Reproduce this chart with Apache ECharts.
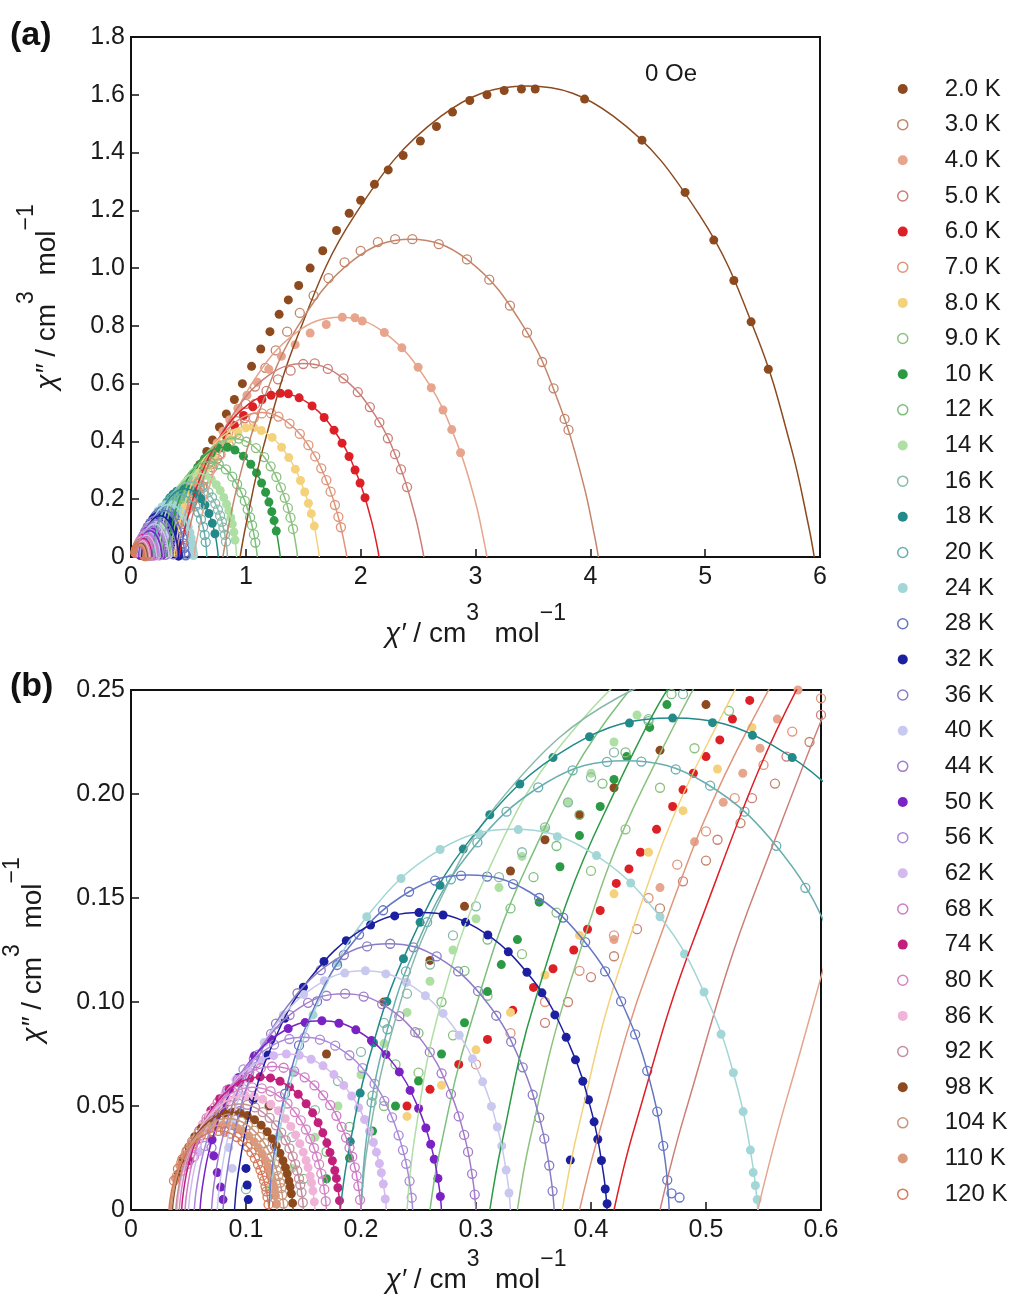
<!DOCTYPE html>
<html><head><meta charset="utf-8">
<script src="https://cdn.jsdelivr.net/npm/echarts@6.0.0/dist/echarts.min.js"></script>
<style>html,body{margin:0;padding:0;background:#fff}#c{width:1013px;height:1306px}</style>
</head><body><div id="c"></div>
<script>
const temps = ['2.0 K','3.0 K','4.0 K','5.0 K','6.0 K','7.0 K','8.0 K','9.0 K','10 K','12 K','14 K','16 K','18 K','20 K','24 K','28 K','32 K','36 K','40 K','44 K','50 K','56 K','62 K','68 K','74 K','80 K','86 K','92 K','98 K','104 K','110 K','120 K'];
const xTicksA = [0,1,2,3,4,5,6];
const yTicksA = [0,0.2,0.4,0.6,0.8,1.0,1.2,1.4,1.6,1.8];
const xTicksB = [0,0.1,0.2,0.3,0.4,0.5,0.6];
const yTicksB = [0,0.05,0.10,0.15,0.20,0.25];

const pts_2K = [[0.12,0.05],[0.17,0.075],[0.22,0.1],[0.26,0.12],[0.29,0.146],[0.33,0.163],[0.36,0.178],[0.39,0.19],[0.42,0.203],[0.46,0.221],[0.5,0.243],[0.55,0.28],[0.6,0.32],[0.66,0.365],[0.71,0.405],[0.77,0.45],[0.83,0.495],[0.9,0.545],[0.97,0.6],[1.05,0.66],[1.13,0.72],[1.21,0.78],[1.29,0.84],[1.37,0.89],[1.46,0.94],[1.56,1.0],[1.67,1.06],[1.79,1.13],[1.9,1.19],[2.0,1.235],[2.12,1.29],[2.24,1.34],[2.37,1.39],[2.52,1.44],[2.66,1.49],[2.8,1.54],[2.95,1.58],[3.1,1.6],[3.25,1.615],[3.4,1.62],[3.52,1.62],[3.95,1.585],[4.45,1.443],[4.825,1.262],[5.075,1.097],[5.25,0.957],[5.4,0.814],[5.55,0.65]];
const pts_3K = [[0.38,0.1],[0.42,0.122],[0.46,0.145],[0.5,0.168],[0.53,0.186],[0.56,0.205],[0.59,0.225],[0.62,0.245],[0.66,0.272],[0.71,0.31],[0.77,0.355],[0.84,0.41],[0.92,0.47],[1.0,0.53],[1.08,0.59],[1.17,0.655],[1.26,0.715],[1.36,0.78],[1.47,0.845],[1.59,0.905],[1.72,0.965],[1.86,1.02],[2.0,1.06],[2.15,1.09],[2.3,1.1],[2.45,1.1],[2.68,1.083],[2.926,1.03],[3.12,0.96],[3.3,0.87],[3.449,0.777],[3.58,0.675],[3.68,0.584],[3.776,0.478],[3.81,0.44]];
const pts_4K = [[0.42,0.13],[0.46,0.155],[0.49,0.177],[0.515,0.196],[0.532,0.21],[0.547,0.222],[0.562,0.236],[0.58,0.25],[0.61,0.275],[0.65,0.31],[0.7,0.35],[0.75,0.395],[0.8,0.435],[0.86,0.475],[0.93,0.515],[1.01,0.56],[1.1,0.605],[1.2,0.65],[1.31,0.695],[1.43,0.735],[1.56,0.775],[1.7,0.805],[1.84,0.83],[1.95,0.828],[2.014,0.817],[2.206,0.777],[2.359,0.724],[2.5,0.657],[2.615,0.586],[2.717,0.509],[2.793,0.441],[2.87,0.361]];
const pts_5K = [[0.36,0.09],[0.4,0.112],[0.44,0.135],[0.48,0.158],[0.51,0.178],[0.54,0.198],[0.57,0.218],[0.6,0.238],[0.64,0.265],[0.69,0.3],[0.75,0.34],[0.82,0.385],[0.9,0.43],[0.99,0.48],[1.08,0.53],[1.18,0.575],[1.28,0.615],[1.39,0.645],[1.5,0.668],[1.6,0.67],[1.714,0.651],[1.85,0.618],[1.975,0.571],[2.08,0.519],[2.163,0.466],[2.237,0.411],[2.3,0.356],[2.351,0.303],[2.404,0.242]];
const pts_6K = [[0.24,0.05],[0.26,0.058],[0.285,0.07],[0.31,0.082],[0.332,0.096],[0.35,0.107],[0.367,0.116],[0.385,0.125],[0.397,0.135],[0.408,0.144],[0.422,0.157],[0.433,0.164],[0.443,0.172],[0.457,0.183],[0.471,0.194],[0.48,0.202],[0.489,0.21],[0.5,0.218],[0.512,0.226],[0.523,0.236],[0.538,0.245],[0.555,0.256],[0.58,0.272],[0.61,0.29],[0.65,0.315],[0.7,0.345],[0.76,0.38],[0.83,0.42],[0.9,0.455],[0.98,0.49],[1.06,0.52],[1.14,0.545],[1.22,0.56],[1.3,0.567],[1.37,0.565],[1.464,0.551],[1.577,0.523],[1.682,0.483],[1.768,0.439],[1.838,0.394],[1.899,0.348],[1.951,0.301],[1.995,0.256],[2.038,0.205]];
const pts_7K = [[0.3,0.07],[0.33,0.085],[0.36,0.1],[0.39,0.115],[0.42,0.132],[0.45,0.15],[0.475,0.166],[0.5,0.182],[0.525,0.198],[0.55,0.214],[0.575,0.23],[0.6,0.246],[0.63,0.266],[0.67,0.292],[0.72,0.322],[0.78,0.355],[0.85,0.39],[0.92,0.425],[1.0,0.458],[1.07,0.482],[1.14,0.497],[1.22,0.497],[1.284,0.486],[1.381,0.462],[1.47,0.426],[1.545,0.387],[1.604,0.348],[1.657,0.307],[1.701,0.266],[1.738,0.226],[1.776,0.18],[1.806,0.139],[1.828,0.103]];
const pts_8K = [[0.24,0.045],[0.27,0.06],[0.3,0.077],[0.33,0.095],[0.36,0.113],[0.39,0.132],[0.42,0.152],[0.45,0.172],[0.48,0.192],[0.51,0.212],[0.54,0.232],[0.57,0.252],[0.61,0.278],[0.66,0.31],[0.72,0.345],[0.79,0.38],[0.86,0.41],[0.93,0.432],[1.0,0.447],[1.07,0.448],[1.134,0.438],[1.229,0.414],[1.311,0.38],[1.374,0.344],[1.431,0.304],[1.476,0.265],[1.513,0.225],[1.545,0.186],[1.57,0.15],[1.596,0.107]];
const pts_9K = [[0.22,0.05],[0.25,0.066],[0.28,0.084],[0.31,0.103],[0.34,0.123],[0.37,0.143],[0.4,0.163],[0.43,0.183],[0.46,0.203],[0.49,0.222],[0.52,0.24],[0.56,0.262],[0.61,0.29],[0.67,0.322],[0.73,0.352],[0.8,0.38],[0.87,0.4],[0.94,0.41],[1.004,0.399],[1.088,0.377],[1.16,0.346],[1.216,0.314],[1.266,0.277],[1.305,0.241],[1.339,0.205],[1.366,0.17],[1.389,0.136],[1.411,0.097]];
const pts_10K = [[0.17,0.015],[0.19,0.025],[0.21,0.038],[0.23,0.05],[0.25,0.062],[0.27,0.075],[0.29,0.09],[0.31,0.105],[0.322,0.118],[0.336,0.13],[0.355,0.148],[0.373,0.165],[0.39,0.18],[0.408,0.194],[0.42,0.207],[0.431,0.218],[0.451,0.232],[0.466,0.243],[0.49,0.258],[0.53,0.28],[0.58,0.31],[0.64,0.34],[0.7,0.36],[0.77,0.376],[0.84,0.38],[0.905,0.37],[0.979,0.349],[1.043,0.321],[1.093,0.291],[1.137,0.256],[1.172,0.224],[1.201,0.19],[1.226,0.157],[1.246,0.126],[1.265,0.09]];
const pts_12K = [[0.15,0.015],[0.17,0.028],[0.19,0.04],[0.21,0.055],[0.23,0.07],[0.25,0.085],[0.27,0.1],[0.29,0.115],[0.31,0.13],[0.33,0.145],[0.35,0.16],[0.37,0.175],[0.39,0.19],[0.41,0.205],[0.43,0.22],[0.45,0.235],[0.47,0.248],[0.5,0.265],[0.54,0.285],[0.59,0.305],[0.64,0.32],[0.69,0.33],[0.764,0.321],[0.827,0.303],[0.882,0.278],[0.924,0.252],[0.961,0.223],[0.991,0.194],[1.016,0.165],[1.037,0.137],[1.054,0.11],[1.071,0.078],[1.083,0.05]];
const pts_14K = [[0.12,0.01],[0.14,0.02],[0.16,0.035],[0.18,0.05],[0.2,0.065],[0.22,0.08],[0.24,0.095],[0.26,0.11],[0.28,0.125],[0.3,0.14],[0.32,0.155],[0.34,0.17],[0.36,0.183],[0.38,0.196],[0.4,0.21],[0.42,0.225],[0.44,0.238],[0.47,0.255],[0.5,0.27],[0.54,0.282],[0.58,0.29],[0.648,0.283],[0.699,0.269],[0.743,0.25],[0.777,0.23],[0.808,0.206],[0.832,0.183],[0.852,0.16],[0.869,0.136],[0.883,0.114],[0.896,0.086],[0.906,0.059]];
const pts_16K = [[0.1,0.01],[0.12,0.022],[0.14,0.035],[0.16,0.048],[0.18,0.062],[0.2,0.076],[0.22,0.09],[0.24,0.104],[0.26,0.118],[0.28,0.132],[0.3,0.146],[0.32,0.16],[0.34,0.172],[0.36,0.184],[0.38,0.196],[0.4,0.208],[0.42,0.22],[0.45,0.236],[0.48,0.248],[0.52,0.258],[0.56,0.259],[0.584,0.254],[0.632,0.2415],[0.674,0.224],[0.706,0.206],[0.734,0.185],[0.757,0.164],[0.776,0.143],[0.792,0.122],[0.805,0.102],[0.818,0.077],[0.827,0.053]];
const pts_18K = [[0.1907,0.0329],[0.1993,0.0562],[0.2109,0.0804],[0.2225,0.1002],[0.2369,0.1208],[0.2514,0.1383],[0.2687,0.1561],[0.2889,0.1735],[0.312,0.19],[0.3381,0.2048],[0.367,0.2175],[0.3987,0.2275],[0.4334,0.2341],[0.471,0.2365],[0.5057,0.2343],[0.5404,0.2282],[0.575,0.2175],[0.6097,0.2018],[0.6444,0.18],[0.6791,0.1505],[0.708,0.117],[0.7311,0.0804]];
const pts_20K = [[0.2092,0.0517],[0.223,0.0869],[0.2391,0.1147],[0.2575,0.1384],[0.2782,0.159],[0.3012,0.1767],[0.3265,0.1915],[0.3541,0.2032],[0.384,0.2114],[0.4139,0.2154],[0.4438,0.2156],[0.4737,0.2118],[0.5036,0.204],[0.5335,0.1915],[0.5611,0.1751],[0.5864,0.1549],[0.6094,0.1303],[0.6278,0.1039],[0.6416,0.0769],[0.6508,0.0517]];
const pts_24K = [[0.1285,0.0356],[0.1413,0.066],[0.1583,0.0938],[0.1795,0.119],[0.205,0.141],[0.2348,0.1594],[0.2688,0.1733],[0.3028,0.1809],[0.3368,0.1829],[0.3708,0.1795],[0.4048,0.1704],[0.4345,0.1572],[0.46,0.141],[0.4813,0.1231],[0.4983,0.1048],[0.5131,0.0845],[0.5238,0.066],[0.5323,0.0473],[0.5386,0.0288],[0.541,0.018],[0.5429,0.0118],[0.5445,0.005]];
const pts_28K = [[0.1252,0.0308],[0.134,0.0559],[0.1461,0.0791],[0.1618,0.1003],[0.1792,0.1178],[0.1983,0.1324],[0.2192,0.1441],[0.2418,0.153],[0.2644,0.1584],[0.287,0.1608],[0.3097,0.1603],[0.3323,0.1567],[0.3549,0.15],[0.3758,0.1406],[0.3949,0.1288],[0.4123,0.1147],[0.4262,0.1003],[0.4384,0.0844],[0.4489,0.0669],[0.4576,0.0473],[0.4628,0.0308],[0.4663,0.0144],[0.47,0.008],[0.477,0.006]];
const pts_32K = [[0.1062,0.053],[0.1192,0.0745],[0.1337,0.0922],[0.1499,0.1071],[0.1678,0.1195],[0.1872,0.1295],[0.2083,0.137],[0.2293,0.1414],[0.2504,0.143],[0.2714,0.1418],[0.2909,0.1383],[0.3103,0.1322],[0.3281,0.1241],[0.3443,0.1143],[0.3573,0.1044],[0.3686,0.0938],[0.3784,0.083],[0.3865,0.0722],[0.3929,0.0619],[0.3978,0.053],[0.4027,0.0424],[0.4059,0.034],[0.4091,0.0238],[0.4124,0.0101],[0.414,0.003],[0.382,0.024],[0.1,0.02],[0.101,0.012],[0.102,0.005]];
const pts_36K = [[0.0944,0.0475],[0.1088,0.0706],[0.1261,0.0896],[0.1448,0.1042],[0.165,0.1153],[0.1851,0.1226],[0.2053,0.1267],[0.2254,0.128],[0.2456,0.1263],[0.2658,0.1219],[0.2845,0.1147],[0.3018,0.1052],[0.3176,0.0934],[0.3306,0.0809],[0.3406,0.0686],[0.3493,0.0554],[0.355,0.0444],[0.3594,0.0343],[0.3637,0.0214],[0.3666,0.0091]];
const pts_40K = [[0.0878,0.0427],[0.1005,0.0634],[0.1158,0.0805],[0.1324,0.0937],[0.1502,0.1036],[0.1681,0.1102],[0.1859,0.1139],[0.2038,0.115],[0.2216,0.1135],[0.2395,0.1095],[0.256,0.103],[0.2714,0.0945],[0.2854,0.084],[0.2969,0.0727],[0.3058,0.0616],[0.3134,0.0498],[0.3185,0.0399],[0.3224,0.0308],[0.3262,0.0192],[0.3287,0.0082],[0.085,0.03],[0.088,0.02]];
const pts_44K = [[0.0815,0.0386],[0.093,0.0574],[0.1068,0.0728],[0.1218,0.0847],[0.1379,0.0937],[0.154,0.0996],[0.17,0.103],[0.1862,0.104],[0.2023,0.1026],[0.2184,0.099],[0.2333,0.0932],[0.2471,0.0855],[0.2598,0.0759],[0.2701,0.0657],[0.2782,0.0557],[0.285,0.045],[0.2897,0.0361],[0.2931,0.0279],[0.2966,0.0174],[0.2989,0.0074],[0.066,0.04],[0.07,0.03]];
const pts_50K = [[0.0705,0.0338],[0.081,0.0502],[0.0936,0.0637],[0.1073,0.0741],[0.122,0.082],[0.1367,0.0872],[0.1514,0.0901],[0.166,0.091],[0.1808,0.0898],[0.1955,0.0866],[0.2091,0.0815],[0.2217,0.0748],[0.2333,0.0664],[0.2427,0.0575],[0.2501,0.0488],[0.2564,0.0394],[0.2606,0.0316],[0.2637,0.0244],[0.2669,0.0152],[0.269,0.0065],[0.072,0.026],[0.075,0.018],[0.078,0.011],[0.08,0.005]];
const pts_56K = [[0.0645,0.0308],[0.074,0.0458],[0.0854,0.0581],[0.0978,0.0676],[0.111,0.0748],[0.1244,0.0795],[0.1377,0.0822],[0.151,0.083],[0.1643,0.0819],[0.1776,0.079],[0.1899,0.0744],[0.2013,0.0682],[0.2118,0.0606],[0.2203,0.0525],[0.227,0.0445],[0.2327,0.0359],[0.2365,0.0288],[0.2393,0.0222],[0.2422,0.0139],[0.2441,0.0059]];
const pts_62K = [[0.0586,0.0278],[0.0655,0.0391],[0.0732,0.0483],[0.0818,0.0562],[0.0913,0.0627],[0.1016,0.068],[0.1128,0.0719],[0.124,0.0742],[0.1351,0.075],[0.1463,0.0744],[0.1566,0.0725],[0.167,0.0693],[0.1764,0.0651],[0.185,0.0599],[0.1919,0.0548],[0.1979,0.0492],[0.2031,0.0435],[0.2074,0.0379],[0.2108,0.0325],[0.2134,0.0278],[0.216,0.0223],[0.2177,0.0179],[0.2194,0.0125],[0.2211,0.0053]];
const pts_68K = [[0.0547,0.0256],[0.0608,0.0359],[0.0677,0.0444],[0.0753,0.0517],[0.0837,0.0577],[0.0929,0.0625],[0.1028,0.0661],[0.1128,0.0682],[0.1227,0.069],[0.1327,0.0684],[0.1419,0.0667],[0.151,0.0638],[0.1595,0.0599],[0.1671,0.0551],[0.1732,0.0504],[0.1786,0.0453],[0.1832,0.04],[0.187,0.0348],[0.19,0.0299],[0.1924,0.0256],[0.1946,0.0205],[0.1962,0.0164],[0.1977,0.0115],[0.1992,0.0049]];
const pts_74K = [[0.0509,0.0237],[0.0564,0.0333],[0.0626,0.0412],[0.0695,0.0479],[0.0771,0.0535],[0.0854,0.058],[0.0944,0.0613],[0.1033,0.0633],[0.1123,0.064],[0.1213,0.0635],[0.1296,0.0619],[0.1378,0.0591],[0.1454,0.0556],[0.1523,0.0511],[0.1579,0.0467],[0.1627,0.042],[0.1668,0.0371],[0.1703,0.0323],[0.173,0.0277],[0.1751,0.0237],[0.1772,0.019],[0.1786,0.0152],[0.1799,0.0107],[0.1813,0.0045]];
const pts_80K = [[0.0484,0.0219],[0.0535,0.0307],[0.0593,0.038],[0.0657,0.0442],[0.0727,0.0493],[0.0804,0.0535],[0.0887,0.0565],[0.097,0.0584],[0.1054,0.059],[0.1137,0.0585],[0.1214,0.0571],[0.129,0.0545],[0.1361,0.0512],[0.1425,0.0471],[0.1476,0.0431],[0.1521,0.0387],[0.1559,0.0342],[0.1591,0.0298],[0.1617,0.0255],[0.1636,0.0219],[0.1655,0.0175],[0.1668,0.014],[0.1681,0.0099],[0.1694,0.0042]];
const pts_86K = [[0.046,0.0204],[0.0508,0.0287],[0.0562,0.0354],[0.0622,0.0412],[0.0688,0.046],[0.076,0.0498],[0.0838,0.0527],[0.0916,0.0544],[0.0994,0.055],[0.1072,0.0546],[0.1144,0.0532],[0.1216,0.0508],[0.1282,0.0477],[0.1342,0.0439],[0.139,0.0402],[0.1432,0.0361],[0.1468,0.0319],[0.1498,0.0278],[0.1522,0.0238],[0.154,0.0204],[0.1558,0.0163],[0.157,0.0131],[0.1582,0.0092],[0.1594,0.0039]];
const pts_92K = [[0.0446,0.0189],[0.049,0.0266],[0.054,0.0328],[0.0595,0.0382],[0.0656,0.0426],[0.0723,0.0462],[0.0795,0.0489],[0.0867,0.0504],[0.0939,0.051],[0.1012,0.0506],[0.1078,0.0493],[0.1145,0.0471],[0.1206,0.0443],[0.1261,0.0407],[0.1306,0.0372],[0.1345,0.0335],[0.1378,0.0296],[0.1406,0.0258],[0.1428,0.0221],[0.1445,0.0189],[0.1461,0.0151],[0.1472,0.0121],[0.1483,0.0085],[0.1494,0.0036]];
const pts_98K = [[0.0413,0.0174],[0.0455,0.0245],[0.0502,0.0303],[0.0554,0.0352],[0.0612,0.0393],[0.0675,0.0426],[0.0743,0.045],[0.0812,0.0465],[0.088,0.047],[0.0948,0.0466],[0.1011,0.0454],[0.1074,0.0434],[0.1132,0.0408],[0.1184,0.0376],[0.1226,0.0343],[0.1263,0.0308],[0.1295,0.0273],[0.1321,0.0237],[0.1342,0.0204],[0.1358,0.0174],[0.1373,0.014],[0.1384,0.0112],[0.1394,0.0078],[0.1405,0.0033]];
const pts_104K = [[0.0399,0.0163],[0.0438,0.0229],[0.0482,0.0283],[0.0531,0.033],[0.0585,0.0368],[0.0644,0.0399],[0.0708,0.0422],[0.0771,0.0435],[0.0835,0.044],[0.0899,0.0436],[0.0958,0.0425],[0.1016,0.0407],[0.107,0.0382],[0.1119,0.0352],[0.1159,0.0321],[0.1193,0.0289],[0.1222,0.0255],[0.1247,0.0222],[0.1266,0.0191],[0.1281,0.0163],[0.1296,0.0131],[0.1306,0.0105],[0.1315,0.0073],[0.1325,0.0031]];
const pts_110K = [[0.0387,0.0152],[0.0424,0.0214],[0.0466,0.0264],[0.0512,0.0307],[0.0563,0.0343],[0.0619,0.0371],[0.068,0.0393],[0.074,0.0405],[0.08,0.041],[0.0861,0.0407],[0.0917,0.0396],[0.0972,0.0379],[0.1024,0.0356],[0.107,0.0328],[0.1107,0.0299],[0.114,0.0269],[0.1168,0.0238],[0.1191,0.0207],[0.121,0.0178],[0.1224,0.0152],[0.1237,0.0122],[0.1247,0.0098],[0.1256,0.0068],[0.1265,0.0029]];
const pts_120K = [[0.0374,0.0141],[0.0408,0.0198],[0.0447,0.0245],[0.0491,0.0285],[0.0539,0.0318],[0.0591,0.0344],[0.0648,0.0364],[0.0704,0.0376],[0.0761,0.038],[0.0817,0.0377],[0.0869,0.0367],[0.0922,0.0351],[0.097,0.033],[0.1013,0.0304],[0.1048,0.0277],[0.1078,0.0249],[0.1104,0.022],[0.1126,0.0192],[0.1143,0.0165],[0.1157,0.0141],[0.117,0.0113],[0.1178,0.009],[0.1187,0.0063],[0.1196,0.0027]];

const fit_2K = [[0.95,0],[1.0,0.109],[1.15,0.377],[1.45,0.764],[1.95,1.184],[2.7,1.526],[3.45,1.63],[4.2,1.526],[4.95,1.184],[5.45,0.764],[5.75,0.377],[5.9,0.109],[5.95,0]];
const fit_3K = [[0.8,0],[0.833,0.073],[0.931,0.254],[1.127,0.515],[1.454,0.799],[1.944,1.03],[2.435,1.1],[2.926,1.03],[3.416,0.799],[3.743,0.515],[3.939,0.254],[4.037,0.073],[4.07,0]];
const fit_4K = [[0.545,0],[0.571,0.055],[0.647,0.192],[0.801,0.389],[1.056,0.603],[1.439,0.777],[1.823,0.83],[2.206,0.777],[2.589,0.603],[2.844,0.389],[2.998,0.192],[3.074,0.055],[3.1,0]];
const fit_5K = [[0.46,0],[0.481,0.045],[0.544,0.155],[0.669,0.314],[0.878,0.487],[1.192,0.627],[1.505,0.67],[1.819,0.627],[2.132,0.487],[2.341,0.314],[2.466,0.155],[2.529,0.045],[2.55,0]];
const fit_6K = [[0.42,0],[0.437,0.038],[0.49,0.131],[0.594,0.266],[0.768,0.412],[1.029,0.531],[1.29,0.567],[1.551,0.531],[1.812,0.412],[1.986,0.266],[2.09,0.131],[2.143,0.038],[2.16,0]];
const fit_7K = [[0.39,0],[0.405,0.033],[0.45,0.116],[0.539,0.234],[0.688,0.363],[0.912,0.468],[1.135,0.5],[1.359,0.468],[1.582,0.363],[1.731,0.234],[1.82,0.116],[1.865,0.033],[1.88,0]];
const fit_8K = [[0.375,0],[0.388,0.037],[0.426,0.118],[0.502,0.225],[0.628,0.336],[0.818,0.424],[1.008,0.45],[1.197,0.424],[1.387,0.336],[1.513,0.225],[1.589,0.118],[1.627,0.037],[1.64,0]];
const fit_9K = [[0.336,0],[0.347,0.034],[0.381,0.108],[0.447,0.205],[0.559,0.306],[0.726,0.386],[0.893,0.41],[1.06,0.386],[1.227,0.306],[1.339,0.205],[1.405,0.108],[1.439,0.034],[1.45,0]];
const fit_10K = [[0.312,0],[0.322,0.031],[0.351,0.1],[0.411,0.19],[0.51,0.284],[0.658,0.358],[0.806,0.38],[0.954,0.358],[1.102,0.284],[1.201,0.19],[1.26,0.1],[1.29,0.031],[1.3,0]];
const fit_12K = [[0.26,0],[0.268,0.027],[0.294,0.087],[0.344,0.165],[0.428,0.246],[0.554,0.311],[0.68,0.33],[0.806,0.311],[0.932,0.246],[1.016,0.165],[1.066,0.087],[1.092,0.027],[1.1,0]];
const fit_14K = [[0.24,0],[0.247,0.036],[0.267,0.094],[0.308,0.16],[0.376,0.225],[0.478,0.275],[0.58,0.29],[0.682,0.275],[0.784,0.225],[0.852,0.16],[0.893,0.094],[0.913,0.036],[0.92,0]];
const fit_16K = [[0.2,0],[0.206,0.032],[0.226,0.084],[0.264,0.1435],[0.328,0.2015],[0.424,0.2465],[0.52,0.26],[0.616,0.2465],[0.712,0.2015],[0.776,0.1435],[0.814,0.084],[0.834,0.032],[0.84,0]];
const fit_18K = [[0.182,0],[0.1878,0.0235],[0.2051,0.069],[0.2398,0.1246],[0.2976,0.18],[0.3843,0.2235],[0.471,0.2365],[0.5577,0.2235],[0.6444,0.18],[0.7022,0.1246],[0.7369,0.069],[0.7542,0.0235],[0.76,0]];
const fit_20K = [[0.2,0],[0.2046,0.0336],[0.2184,0.0769],[0.246,0.1244],[0.292,0.1702],[0.361,0.2054],[0.43,0.216],[0.499,0.2054],[0.568,0.1702],[0.614,0.1244],[0.6416,0.0769],[0.6554,0.0336],[0.66,0]];
const fit_24K = [[0.12,0],[0.1243,0.021],[0.137,0.0573],[0.1625,0.0995],[0.205,0.141],[0.2688,0.1733],[0.3325,0.183],[0.3963,0.1733],[0.46,0.141],[0.5025,0.0995],[0.528,0.0573],[0.5408,0.021],[0.545,0]];
const fit_28K = [[0.12,0],[0.1235,0.0236],[0.134,0.0559],[0.1548,0.0917],[0.1896,0.1263],[0.2418,0.153],[0.294,0.161],[0.3462,0.153],[0.3984,0.1263],[0.4332,0.0917],[0.454,0.0559],[0.4645,0.0236],[0.468,0]];
const fit_32K = [[0.09,0],[0.0932,0.0176],[0.103,0.0462],[0.1224,0.0789],[0.1548,0.1108],[0.2034,0.1356],[0.252,0.143],[0.3006,0.1356],[0.3492,0.1108],[0.3816,0.0789],[0.401,0.0462],[0.4108,0.0176],[0.414,0]];
const fit_36K = [[0.08,0],[0.0829,0.0157],[0.0915,0.0413],[0.1088,0.0707],[0.1376,0.0992],[0.1808,0.1213],[0.224,0.128],[0.2672,0.1213],[0.3104,0.0992],[0.3392,0.0707],[0.3565,0.0413],[0.3651,0.0157],[0.368,0]];
const fit_40K = [[0.075,0],[0.0776,0.0141],[0.0852,0.0371],[0.1005,0.0635],[0.126,0.0891],[0.1643,0.109],[0.2025,0.115],[0.2408,0.109],[0.279,0.0891],[0.3045,0.0635],[0.3198,0.0371],[0.3275,0.0141],[0.33,0]];
const fit_44K = [[0.07,0],[0.0723,0.0128],[0.0792,0.0336],[0.093,0.0574],[0.116,0.0806],[0.1505,0.0986],[0.185,0.104],[0.2195,0.0986],[0.254,0.0806],[0.277,0.0574],[0.2908,0.0336],[0.2977,0.0128],[0.3,0]];
const fit_50K = [[0.06,0],[0.0621,0.0112],[0.0684,0.0294],[0.081,0.0502],[0.102,0.0705],[0.1335,0.0863],[0.165,0.091],[0.1965,0.0863],[0.228,0.0705],[0.249,0.0502],[0.2616,0.0294],[0.2679,0.0112],[0.27,0]];
const fit_56K = [[0.055,0],[0.0569,0.0102],[0.0626,0.0268],[0.074,0.0458],[0.093,0.0643],[0.1215,0.0787],[0.15,0.083],[0.1785,0.0787],[0.207,0.0643],[0.226,0.0458],[0.2374,0.0268],[0.2431,0.0102],[0.245,0]];
const fit_62K = [[0.05,0],[0.0517,0.0092],[0.0569,0.0242],[0.0672,0.0414],[0.0844,0.0581],[0.1102,0.0711],[0.136,0.075],[0.1618,0.0711],[0.1876,0.0581],[0.2048,0.0414],[0.2151,0.0242],[0.2203,0.0092],[0.222,0]];
const fit_68K = [[0.047,0],[0.0485,0.0085],[0.0531,0.0223],[0.0623,0.0381],[0.0776,0.0535],[0.1006,0.0654],[0.1235,0.069],[0.1465,0.0654],[0.1694,0.0535],[0.1847,0.0381],[0.1939,0.0223],[0.1985,0.0085],[0.2,0]];
const fit_74K = [[0.044,0],[0.0454,0.0079],[0.0495,0.0207],[0.0578,0.0353],[0.0716,0.0496],[0.0923,0.0607],[0.113,0.064],[0.1337,0.0607],[0.1544,0.0496],[0.1682,0.0353],[0.1765,0.0207],[0.1806,0.0079],[0.182,0]];
const fit_80K = [[0.042,0],[0.0433,0.0073],[0.0471,0.0191],[0.0548,0.0326],[0.0676,0.0457],[0.0868,0.0559],[0.106,0.059],[0.1252,0.0559],[0.1444,0.0457],[0.1572,0.0326],[0.1649,0.0191],[0.1687,0.0073],[0.17,0]];
const fit_86K = [[0.04,0],[0.0412,0.0068],[0.0448,0.0178],[0.052,0.0304],[0.064,0.0426],[0.082,0.0521],[0.1,0.055],[0.118,0.0521],[0.136,0.0426],[0.148,0.0304],[0.1552,0.0178],[0.1588,0.0068],[0.16,0]];
const fit_92K = [[0.039,0],[0.0401,0.0063],[0.0434,0.0165],[0.0501,0.0282],[0.0612,0.0395],[0.0779,0.0483],[0.0945,0.051],[0.1112,0.0483],[0.1278,0.0395],[0.1389,0.0282],[0.1456,0.0165],[0.1489,0.0063],[0.15,0]];
const fit_98K = [[0.036,0],[0.0371,0.0058],[0.0402,0.0152],[0.0465,0.0259],[0.057,0.0364],[0.0728,0.0446],[0.0885,0.047],[0.1043,0.0446],[0.12,0.0364],[0.1305,0.0259],[0.1368,0.0152],[0.14,0.0058],[0.141,0]];
const fit_104K = [[0.035,0],[0.036,0.0054],[0.0389,0.0142],[0.0448,0.0243],[0.0546,0.0341],[0.0693,0.0417],[0.084,0.044],[0.0987,0.0417],[0.1134,0.0341],[0.1232,0.0243],[0.1291,0.0142],[0.132,0.0054],[0.133,0]];
const fit_110K = [[0.034,0],[0.0349,0.005],[0.0377,0.0132],[0.0433,0.0226],[0.0526,0.0318],[0.0666,0.0389],[0.0805,0.041],[0.0945,0.0389],[0.1084,0.0318],[0.1177,0.0226],[0.1233,0.0132],[0.1261,0.005],[0.127,0]];
const fit_120K = [[0.033,0],[0.0339,0.0047],[0.0365,0.0123],[0.0417,0.021],[0.0504,0.0295],[0.0635,0.036],[0.0765,0.038],[0.0896,0.036],[0.1026,0.0295],[0.1113,0.021],[0.1165,0.0123],[0.1191,0.0047],[0.12,0]];

const pointSets = [pts_2K,pts_3K,pts_4K,pts_5K,pts_6K,pts_7K,pts_8K,pts_9K,pts_10K,pts_12K,pts_14K,pts_16K,pts_18K,pts_20K,pts_24K,pts_28K,pts_32K,pts_36K,pts_40K,pts_44K,pts_50K,pts_56K,pts_62K,pts_68K,pts_74K,pts_80K,pts_86K,pts_92K,pts_98K,pts_104K,pts_110K,pts_120K];
const fitSets = [fit_2K,fit_3K,fit_4K,fit_5K,fit_6K,fit_7K,fit_8K,fit_9K,fit_10K,fit_12K,fit_14K,fit_16K,fit_18K,fit_20K,fit_24K,fit_28K,fit_32K,fit_36K,fit_40K,fit_44K,fit_50K,fit_56K,fit_62K,fit_68K,fit_74K,fit_80K,fit_86K,fit_92K,fit_98K,fit_104K,fit_110K,fit_120K];

// styles
const colors = ['#8C4A1E','#C4856A','#E6A58C','#CC7F78','#DD1F26','#E0957A','#F4D27C','#8CC27E','#2C9A45','#7DBF7D','#AEDFA3','#88B9AA','#238A8A','#6AAFB0','#A3D6D6','#6677C4','#1B1FA0','#8A7DC6','#C9C8EE','#A37CCC','#7A22C4','#A98AD8','#D4B8F0','#CF7BC8','#C2207C','#D584C6','#F0B4D8','#C38E9E','#8E4A1C','#C7977A','#D99A7E','#D57A5A'];
const markerFilled = temps.map((t, i) => i % 2 === 0);

const FONT = '"Liberation Sans", Arial, Helvetica, sans-serif';
const chart = echarts.init(document.getElementById('c'), null, {renderer: 'canvas'});

function styleFor(i) {
  return markerFilled[i]
    ? {color: colors[i], opacity: 1}
    : {color: 'rgba(255,255,255,0)', borderColor: colors[i], borderWidth: 1.3, opacity: 1};
}

const series = [];
temps.forEach((t, i) => {
  [0, 1].forEach(g => {
    series.push({
      type: 'scatter', name: t, xAxisIndex: g, yAxisIndex: g,
      data: pointSets[i], symbol: 'circle', symbolSize: 9,
      itemStyle: styleFor(i), z: 2, silent: true, clip: true
    });
  });
});
temps.forEach((t, i) => {
  [0, 1].forEach(g => {
    series.push({
      type: 'line', name: t + ' fit', xAxisIndex: g, yAxisIndex: g,
      data: fitSets[i], smooth: 0.4, showSymbol: false, symbol: 'none',
      lineStyle: {color: colors[i], width: 1.5}, z: 3, silent: true, clip: true
    });
  });
});

const axisNameRich = {
  chi: {fontFamily: FONT, fontSize: 28, fontStyle: 'italic', lineHeight: 64, color: '#1a1a1a'},
  sup: {fontFamily: FONT, fontSize: 23, verticalAlign: 'top', lineHeight: 24, color: '#1a1a1a'}
};
function nameStyle() {
  return {fontFamily: FONT, fontSize: 28, lineHeight: 64, color: '#1a1a1a', rich: axisNameRich};
}
const xName = '{chi|χ′} / cm{sup|3}  mol{sup|−1}';
const yName = '{chi|χ″} / cm{sup|3}  mol{sup|−1}';

function mkAxis(gi, ticks, decimals, isY, name, gap) {
  const step = ticks[1] - ticks[0];
  return {
    type: 'value', gridIndex: gi, min: ticks[0], max: ticks[ticks.length - 1], interval: step,
    axisLine: {show: true, onZero: false, lineStyle: {color: '#111', width: 2}},
    axisTick: {show: true, inside: true, length: 8, lineStyle: {color: '#111', width: 1.5}},
    axisLabel: {fontFamily: FONT, fontSize: 25, color: '#1a1a1a', margin: isY ? 6 : 8,
      formatter: v => (Math.abs(v) < 1e-9 ? '0' : v.toFixed(decimals))},
    splitLine: {show: false},
    name: name, nameLocation: 'middle', nameGap: gap, nameRotate: isY ? 90 : 0,
    nameTextStyle: nameStyle()
  };
}

const option = {
  animation: false,
  backgroundColor: '#ffffff',
  textStyle: {fontFamily: FONT},
  grid: [
    {left: 131, top: 37, width: 689, height: 520, show: true, borderColor: '#111', borderWidth: 2, backgroundColor: 'transparent', containLabel: false, outerBoundsMode: 'none'},
    {left: 131, top: 690, width: 690, height: 520, show: true, borderColor: '#111', borderWidth: 2, backgroundColor: 'transparent', containLabel: false, outerBoundsMode: 'none'}
  ],
  xAxis: [
    mkAxis(0, xTicksA, 0, false, xName, 45),
    mkAxis(1, xTicksB, 1, false, xName, 38)
  ],
  yAxis: [
    mkAxis(0, yTicksA, 1, true, yName, 40),
    mkAxis(1, yTicksB, 2, true, yName, 46)
  ],
  legend: {
    orient: 'vertical', left: 897, top: 77, padding: 0, itemWidth: 12, itemHeight: 10, itemGap: 11.65,
    selectedMode: false,
    textStyle: {fontFamily: FONT, fontSize: 24, color: '#1a1a1a', lineHeight: 24, padding: [0, 0, 0, 31]},
    data: temps.map((t, i) => ({
      name: t, icon: 'circle',
      itemStyle: markerFilled[i] ? {color: colors[i]} : {color: '#ffffff', borderColor: colors[i], borderWidth: 1.5}
    }))
  },
  graphic: [
    {type: 'text', left: 10, top: 19, style: {text: '(a)', font: 'bold 34px ' + FONT, fill: '#111'}},
    {type: 'text', left: 10, top: 670, style: {text: '(b)', font: 'bold 34px ' + FONT, fill: '#111'}},
    {type: 'text', left: 645, top: 62, style: {text: '0 Oe', font: '24px ' + FONT, fill: '#1a1a1a'}}
  ],
  series: series
};
chart.setOption(option);
</script></body></html>
